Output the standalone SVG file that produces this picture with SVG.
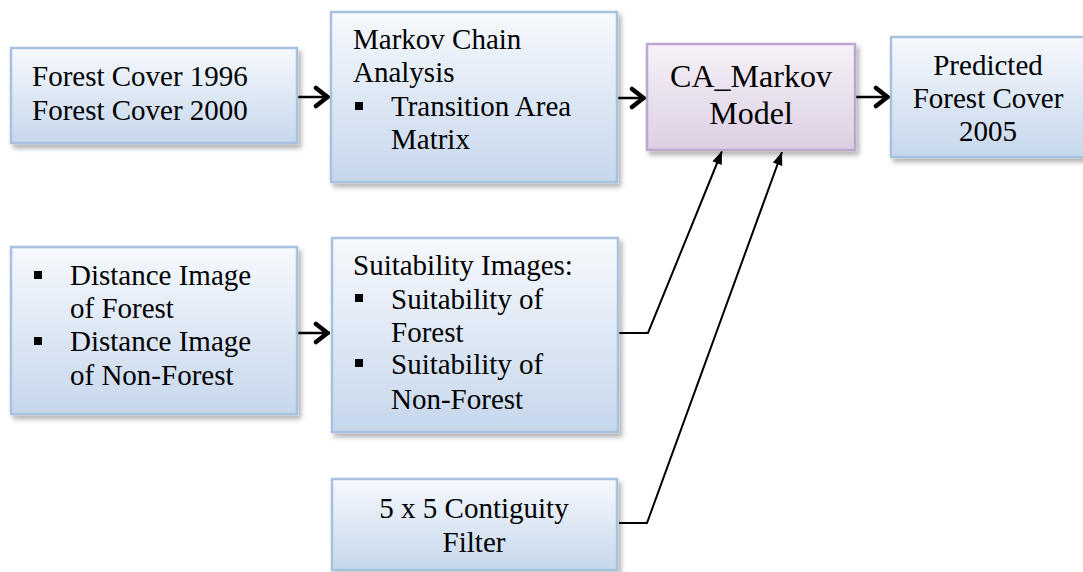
<svg xmlns="http://www.w3.org/2000/svg" width="1083" height="572" viewBox="0 0 1083 572">
<style>
.box{fill:url(#gBlue);stroke:#a8c1df;stroke-width:2.5;filter:url(#sh)}
.pbox{fill:url(#gPurple);stroke:#bca8ca;stroke-width:2.5;filter:url(#sh)}
text{font-family:"Liberation Serif","Times New Roman",serif;font-size:29px;fill:#000}
.c{text-anchor:middle}
.big{font-size:32px}
.bul{fill:#000}
.conn{fill:none;stroke:#000}
.thick{stroke-width:2.5;marker-end:url(#chev)}
.thin{stroke-width:2;marker-end:url(#tri)}
</style>
<defs>
<linearGradient id="gBlue" x1="0" y1="0" x2="0" y2="1">
<stop offset="0" stop-color="#f6f9fd"/>
<stop offset="1" stop-color="#c6d7ec"/>
</linearGradient>
<linearGradient id="gPurple" x1="0" y1="0" x2="0" y2="1">
<stop offset="0" stop-color="#f6f1f8"/>
<stop offset="1" stop-color="#dccfe3"/>
</linearGradient>
<filter id="sh" x="-10%" y="-10%" width="125%" height="130%">
<feDropShadow dx="3" dy="4" stdDeviation="2.5" flood-color="#000" flood-opacity="0.3"/>
</filter>
<marker id="chev" viewBox="-18 -12 20 24" refX="0" refY="0" markerWidth="20" markerHeight="24" markerUnits="userSpaceOnUse" orient="auto">
<path d="M-14,-9 L-2.5,0 L-14,9" fill="none" stroke="#000" stroke-width="4.5" stroke-linejoin="round" stroke-linecap="round"/>
</marker>
<marker id="tri" viewBox="-14 -7 15 14" refX="0" refY="0" markerWidth="15" markerHeight="14" markerUnits="userSpaceOnUse" orient="auto">
<path d="M0,0 L-13,-5 L-13,5 z" fill="#000"/>
</marker>
</defs>

<g id="connectors">
<line class="conn thick" x1="298" y1="97" x2="330" y2="97"/>
<line class="conn thick" x1="618" y1="98" x2="646" y2="98"/>
<line class="conn thick" x1="856" y1="97" x2="890" y2="97"/>
<line class="conn thick" x1="298" y1="333" x2="330" y2="333"/>
<polyline class="conn thin" points="619,333 648,333 722,151"/>
<polyline class="conn thin" points="619,523 647,523 782,152"/>
</g>

<g id="n-forest-cover">
<rect class="box" x="11" y="48" width="286" height="95"/>
<text x="32" y="86">Forest Cover 1996</text>
<text x="32" y="120">Forest Cover 2000</text>
</g>

<g id="n-markov-chain">
<rect class="box" x="331" y="12" width="286" height="170"/>
<text x="353" y="49">Markov Chain</text>
<text x="353" y="82">Analysis</text>
<rect class="bul" x="355" y="102" width="8" height="8"/>
<text x="391" y="116">Transition Area</text>
<text x="391" y="149">Matrix</text>
</g>

<g id="n-ca-markov">
<rect class="pbox" x="647" y="44" width="208" height="106"/>
<text class="c big" x="751" y="87">CA_Markov</text>
<text class="c big" x="751" y="124">Model</text>
</g>

<g id="n-predicted">
<rect class="box" x="891" y="37" width="196" height="120"/>
<text class="c" x="988" y="75">Predicted</text>
<text class="c" x="988" y="108">Forest Cover</text>
<text class="c" x="988" y="141">2005</text>
</g>

<g id="n-distance">
<rect class="box" x="11" y="247" width="286" height="167"/>
<rect class="bul" x="34" y="271" width="8" height="8"/>
<text x="70" y="285">Distance Image</text>
<text x="70" y="318">of Forest</text>
<rect class="bul" x="34" y="337" width="8" height="8"/>
<text x="70" y="351">Distance Image</text>
<text x="70" y="385">of Non-Forest</text>
</g>

<g id="n-suitability">
<rect class="box" x="332" y="238" width="286" height="194"/>
<text x="353" y="275">Suitability Images:</text>
<rect class="bul" x="355" y="294" width="8" height="8"/>
<text x="391" y="309">Suitability of</text>
<text x="391" y="342">Forest</text>
<rect class="bul" x="355" y="359" width="8" height="8"/>
<text x="391" y="374">Suitability of</text>
<text x="391" y="409">Non-Forest</text>
</g>

<g id="n-contiguity">
<rect class="box" x="332" y="479" width="285" height="91"/>
<text class="c" x="474" y="518">5 x 5 Contiguity</text>
<text class="c" x="474" y="552">Filter</text>
</g>
</svg>
